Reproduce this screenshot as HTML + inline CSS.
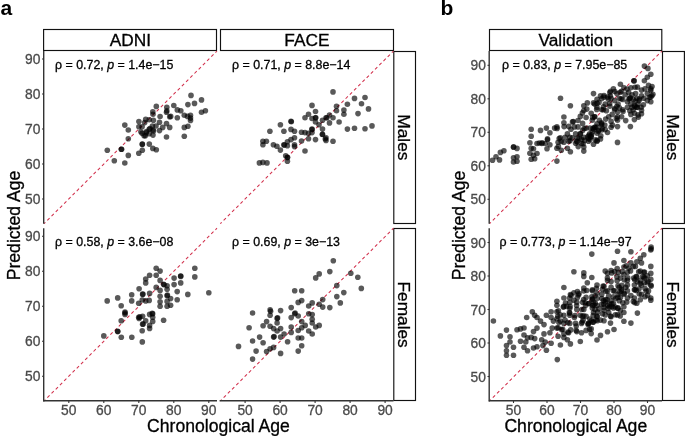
<!DOCTYPE html>
<html><head><meta charset="utf-8"><style>
html,body{margin:0;padding:0;background:#fff;width:685px;height:436px;overflow:hidden}
svg{display:block;filter:blur(0.3px)}
text{font-family:"Liberation Sans", sans-serif}
</style></head><body>
<svg width="685" height="436" viewBox="0 0 685 436">
<rect x="43.60" y="29.50" width="172.90" height="21.00" fill="#fff" stroke="#111" stroke-width="1.15"/>
<rect x="220.50" y="29.50" width="173.00" height="21.00" fill="#fff" stroke="#111" stroke-width="1.15"/>
<rect x="393.80" y="51.50" width="21.70" height="172.00" fill="#fff" stroke="#111" stroke-width="1.15"/>
<rect x="393.80" y="228.50" width="21.70" height="172.00" fill="#fff" stroke="#111" stroke-width="1.15"/>
<rect x="489.50" y="29.50" width="172.30" height="21.00" fill="#fff" stroke="#111" stroke-width="1.15"/>
<rect x="662.50" y="51.50" width="21.90" height="172.00" fill="#fff" stroke="#111" stroke-width="1.15"/>
<rect x="662.50" y="228.50" width="21.90" height="172.00" fill="#fff" stroke="#111" stroke-width="1.15"/>
<line x1="44.00" y1="223.70" x2="217.00" y2="51.00" stroke="#d2304c" stroke-width="1.05" stroke-dasharray="3.2 2.74" stroke-dashoffset="1.24"/>
<line x1="220.30" y1="223.70" x2="393.50" y2="51.00" stroke="#d2304c" stroke-width="1.05" stroke-dasharray="3.2 2.74" stroke-dashoffset="1.24"/>
<line x1="44.00" y1="401.00" x2="217.00" y2="228.20" stroke="#d2304c" stroke-width="1.05" stroke-dasharray="3.2 2.74" stroke-dashoffset="1.24"/>
<line x1="220.30" y1="401.00" x2="393.50" y2="228.20" stroke="#d2304c" stroke-width="1.05" stroke-dasharray="3.2 2.74" stroke-dashoffset="1.24"/>
<line x1="489.50" y1="223.70" x2="662.00" y2="51.00" stroke="#d2304c" stroke-width="1.05" stroke-dasharray="3.2 2.74" stroke-dashoffset="1.24"/>
<line x1="489.50" y1="401.00" x2="662.00" y2="228.20" stroke="#d2304c" stroke-width="1.05" stroke-dasharray="3.2 2.74" stroke-dashoffset="1.24"/>
<g fill="#000" fill-opacity="0.65">
<circle cx="191.0" cy="95.4" r="2.8"/>
<circle cx="201.5" cy="99.9" r="2.8"/>
<circle cx="194.5" cy="103.4" r="2.8"/>
<circle cx="187.9" cy="104.6" r="2.8"/>
<circle cx="201.5" cy="112.2" r="2.8"/>
<circle cx="205.4" cy="110.8" r="2.8"/>
<circle cx="173.8" cy="105.5" r="2.8"/>
<circle cx="177.3" cy="109.9" r="2.8"/>
<circle cx="180.8" cy="110.8" r="2.8"/>
<circle cx="166.8" cy="107.3" r="2.8"/>
<circle cx="166.8" cy="110.8" r="2.8"/>
<circle cx="156.3" cy="106.4" r="2.8"/>
<circle cx="152.8" cy="111.7" r="2.8"/>
<circle cx="177.3" cy="117.8" r="2.8"/>
<circle cx="184.3" cy="115.2" r="2.8"/>
<circle cx="190.5" cy="115.2" r="2.8"/>
<circle cx="190.5" cy="120.4" r="2.8"/>
<circle cx="184.3" cy="127.4" r="2.8"/>
<circle cx="187.9" cy="126.2" r="2.8"/>
<circle cx="184.3" cy="136.2" r="2.8"/>
<circle cx="142.3" cy="144.1" r="2.8"/>
<circle cx="149.3" cy="144.1" r="2.8"/>
<circle cx="152.8" cy="148.4" r="2.8"/>
<circle cx="156.3" cy="149.7" r="2.8"/>
<circle cx="142.3" cy="150.2" r="2.8"/>
<circle cx="138.8" cy="153.2" r="2.8"/>
<circle cx="124.8" cy="125.1" r="2.8"/>
<circle cx="128.3" cy="130.0" r="2.8"/>
<circle cx="128.3" cy="138.8" r="2.8"/>
<circle cx="107.3" cy="150.2" r="2.8"/>
<circle cx="121.3" cy="149.3" r="2.8"/>
<circle cx="128.3" cy="155.4" r="2.8"/>
<circle cx="114.3" cy="160.7" r="2.8"/>
<circle cx="124.8" cy="163.0" r="2.8"/>
<circle cx="138.9" cy="121.6" r="2.8"/>
<circle cx="145.7" cy="119.4" r="2.8"/>
<circle cx="149.2" cy="119.7" r="2.8"/>
<circle cx="153.0" cy="114.2" r="2.8"/>
<circle cx="153.4" cy="120.3" r="2.8"/>
<circle cx="160.1" cy="116.5" r="2.8"/>
<circle cx="159.5" cy="122.3" r="2.8"/>
<circle cx="166.5" cy="112.3" r="2.8"/>
<circle cx="169.7" cy="116.8" r="2.8"/>
<circle cx="166.5" cy="123.6" r="2.8"/>
<circle cx="169.7" cy="127.4" r="2.8"/>
<circle cx="162.7" cy="127.4" r="2.8"/>
<circle cx="159.5" cy="130.6" r="2.8"/>
<circle cx="138.9" cy="126.8" r="2.8"/>
<circle cx="142.1" cy="126.8" r="2.8"/>
<circle cx="144.7" cy="122.6" r="2.8"/>
<circle cx="152.4" cy="126.1" r="2.8"/>
<circle cx="149.2" cy="129.3" r="2.8"/>
<circle cx="153.0" cy="130.0" r="2.8"/>
<circle cx="142.1" cy="133.2" r="2.8"/>
<circle cx="145.3" cy="135.8" r="2.8"/>
<circle cx="149.2" cy="133.8" r="2.8"/>
<circle cx="153.0" cy="135.1" r="2.8"/>
<circle cx="166.5" cy="137.0" r="2.8"/>
<circle cx="150.0" cy="128.5" r="2.8"/>
<circle cx="153.5" cy="131.0" r="2.8"/>
<circle cx="146.5" cy="131.5" r="2.8"/>
<circle cx="156.0" cy="126.0" r="2.8"/>
<circle cx="170.7" cy="116.4" r="2.8"/>
<circle cx="190.5" cy="118.1" r="2.8"/>
<circle cx="144.1" cy="135.7" r="2.8"/>
<circle cx="146.2" cy="132.7" r="2.8"/>
<circle cx="121.6" cy="149.3" r="2.8"/>
<circle cx="142.3" cy="144.4" r="2.8"/>
<circle cx="187.5" cy="116.4" r="2.8"/>
<circle cx="140.9" cy="131.8" r="2.8"/>
<circle cx="333.0" cy="91.9" r="2.8"/>
<circle cx="336.5" cy="106.3" r="2.8"/>
<circle cx="336.5" cy="110.7" r="2.8"/>
<circle cx="339.1" cy="122.0" r="2.8"/>
<circle cx="312.0" cy="105.4" r="2.8"/>
<circle cx="315.5" cy="111.5" r="2.8"/>
<circle cx="308.5" cy="114.2" r="2.8"/>
<circle cx="305.0" cy="117.7" r="2.8"/>
<circle cx="315.5" cy="117.7" r="2.8"/>
<circle cx="312.0" cy="118.5" r="2.8"/>
<circle cx="315.5" cy="122.0" r="2.8"/>
<circle cx="319.0" cy="124.7" r="2.8"/>
<circle cx="322.5" cy="120.3" r="2.8"/>
<circle cx="326.0" cy="117.7" r="2.8"/>
<circle cx="329.5" cy="115.0" r="2.8"/>
<circle cx="333.0" cy="117.7" r="2.8"/>
<circle cx="329.5" cy="122.9" r="2.8"/>
<circle cx="291.0" cy="121.2" r="2.8"/>
<circle cx="280.4" cy="124.7" r="2.8"/>
<circle cx="269.9" cy="131.2" r="2.8"/>
<circle cx="283.9" cy="131.2" r="2.8"/>
<circle cx="291.0" cy="129.4" r="2.8"/>
<circle cx="294.5" cy="131.2" r="2.8"/>
<circle cx="301.5" cy="132.2" r="2.8"/>
<circle cx="305.0" cy="132.6" r="2.8"/>
<circle cx="308.5" cy="133.4" r="2.8"/>
<circle cx="312.0" cy="129.1" r="2.8"/>
<circle cx="312.0" cy="132.6" r="2.8"/>
<circle cx="322.5" cy="129.1" r="2.8"/>
<circle cx="322.5" cy="134.3" r="2.8"/>
<circle cx="326.0" cy="137.8" r="2.8"/>
<circle cx="326.0" cy="140.4" r="2.8"/>
<circle cx="333.0" cy="141.3" r="2.8"/>
<circle cx="315.5" cy="139.6" r="2.8"/>
<circle cx="301.5" cy="141.0" r="2.8"/>
<circle cx="308.5" cy="138.7" r="2.8"/>
<circle cx="294.5" cy="137.8" r="2.8"/>
<circle cx="291.0" cy="139.6" r="2.8"/>
<circle cx="287.4" cy="141.7" r="2.8"/>
<circle cx="283.9" cy="144.8" r="2.8"/>
<circle cx="287.4" cy="145.7" r="2.8"/>
<circle cx="294.5" cy="144.8" r="2.8"/>
<circle cx="294.5" cy="146.6" r="2.8"/>
<circle cx="280.4" cy="150.1" r="2.8"/>
<circle cx="276.9" cy="146.2" r="2.8"/>
<circle cx="273.4" cy="144.8" r="2.8"/>
<circle cx="262.9" cy="141.3" r="2.8"/>
<circle cx="266.4" cy="141.3" r="2.8"/>
<circle cx="262.9" cy="144.8" r="2.8"/>
<circle cx="305.0" cy="151.0" r="2.8"/>
<circle cx="285.7" cy="155.7" r="2.8"/>
<circle cx="354.5" cy="98.4" r="2.8"/>
<circle cx="365.0" cy="97.5" r="2.8"/>
<circle cx="361.5" cy="103.7" r="2.8"/>
<circle cx="347.4" cy="104.2" r="2.8"/>
<circle cx="368.5" cy="108.9" r="2.8"/>
<circle cx="343.9" cy="110.1" r="2.8"/>
<circle cx="343.9" cy="114.2" r="2.8"/>
<circle cx="358.0" cy="113.6" r="2.8"/>
<circle cx="347.4" cy="129.1" r="2.8"/>
<circle cx="354.5" cy="128.2" r="2.8"/>
<circle cx="365.0" cy="128.7" r="2.8"/>
<circle cx="372.0" cy="125.9" r="2.8"/>
<circle cx="259.4" cy="162.9" r="2.8"/>
<circle cx="262.9" cy="162.4" r="2.8"/>
<circle cx="267.0" cy="162.9" r="2.8"/>
<circle cx="287.4" cy="157.2" r="2.8"/>
<circle cx="287.4" cy="161.2" r="2.8"/>
<circle cx="291.3" cy="121.7" r="2.8"/>
<circle cx="312.0" cy="129.5" r="2.8"/>
<circle cx="315.7" cy="117.8" r="2.8"/>
<circle cx="326.9" cy="117.8" r="2.8"/>
<circle cx="325.3" cy="139.0" r="2.8"/>
<circle cx="284.3" cy="145.1" r="2.8"/>
<circle cx="287.5" cy="157.6" r="2.8"/>
<circle cx="322.4" cy="134.5" r="2.8"/>
<circle cx="156.2" cy="268.2" r="2.8"/>
<circle cx="160.1" cy="271.1" r="2.8"/>
<circle cx="149.6" cy="275.2" r="2.8"/>
<circle cx="156.2" cy="275.2" r="2.8"/>
<circle cx="145.7" cy="279.0" r="2.8"/>
<circle cx="145.7" cy="282.9" r="2.8"/>
<circle cx="160.1" cy="280.4" r="2.8"/>
<circle cx="163.6" cy="284.3" r="2.8"/>
<circle cx="167.1" cy="285.7" r="2.8"/>
<circle cx="156.2" cy="287.4" r="2.8"/>
<circle cx="160.1" cy="290.4" r="2.8"/>
<circle cx="167.1" cy="289.2" r="2.8"/>
<circle cx="174.1" cy="278.1" r="2.8"/>
<circle cx="180.7" cy="276.4" r="2.8"/>
<circle cx="180.7" cy="282.9" r="2.8"/>
<circle cx="174.1" cy="284.6" r="2.8"/>
<circle cx="194.8" cy="268.2" r="2.8"/>
<circle cx="194.8" cy="276.9" r="2.8"/>
<circle cx="208.8" cy="292.7" r="2.8"/>
<circle cx="187.8" cy="294.4" r="2.8"/>
<circle cx="177.2" cy="291.6" r="2.8"/>
<circle cx="177.2" cy="299.7" r="2.8"/>
<circle cx="170.6" cy="298.6" r="2.8"/>
<circle cx="167.1" cy="295.7" r="2.8"/>
<circle cx="167.1" cy="301.4" r="2.8"/>
<circle cx="167.1" cy="306.2" r="2.8"/>
<circle cx="170.6" cy="305.3" r="2.8"/>
<circle cx="160.1" cy="296.2" r="2.8"/>
<circle cx="160.1" cy="301.8" r="2.8"/>
<circle cx="160.1" cy="306.2" r="2.8"/>
<circle cx="149.6" cy="293.4" r="2.8"/>
<circle cx="142.6" cy="294.4" r="2.8"/>
<circle cx="149.2" cy="300.4" r="2.8"/>
<circle cx="145.7" cy="300.9" r="2.8"/>
<circle cx="142.2" cy="300.0" r="2.8"/>
<circle cx="138.7" cy="303.2" r="2.8"/>
<circle cx="139.1" cy="288.7" r="2.8"/>
<circle cx="131.7" cy="294.8" r="2.8"/>
<circle cx="131.7" cy="300.9" r="2.8"/>
<circle cx="117.7" cy="297.9" r="2.8"/>
<circle cx="107.2" cy="300.9" r="2.8"/>
<circle cx="121.2" cy="305.7" r="2.8"/>
<circle cx="125.0" cy="312.0" r="2.8"/>
<circle cx="125.0" cy="314.4" r="2.8"/>
<circle cx="121.2" cy="320.7" r="2.8"/>
<circle cx="138.7" cy="317.2" r="2.8"/>
<circle cx="142.6" cy="316.2" r="2.8"/>
<circle cx="139.1" cy="318.4" r="2.8"/>
<circle cx="149.6" cy="314.4" r="2.8"/>
<circle cx="152.7" cy="313.7" r="2.8"/>
<circle cx="152.7" cy="317.2" r="2.8"/>
<circle cx="152.7" cy="321.4" r="2.8"/>
<circle cx="145.7" cy="320.7" r="2.8"/>
<circle cx="142.6" cy="324.2" r="2.8"/>
<circle cx="149.6" cy="325.4" r="2.8"/>
<circle cx="149.6" cy="328.4" r="2.8"/>
<circle cx="142.2" cy="330.7" r="2.8"/>
<circle cx="163.6" cy="320.2" r="2.8"/>
<circle cx="117.7" cy="331.6" r="2.8"/>
<circle cx="103.8" cy="335.9" r="2.8"/>
<circle cx="121.3" cy="337.2" r="2.8"/>
<circle cx="131.8" cy="337.2" r="2.8"/>
<circle cx="142.3" cy="341.9" r="2.8"/>
<circle cx="180.7" cy="276.0" r="2.8"/>
<circle cx="142.9" cy="294.1" r="2.8"/>
<circle cx="164.1" cy="284.8" r="2.8"/>
<circle cx="167.4" cy="295.1" r="2.8"/>
<circle cx="139.8" cy="316.9" r="2.8"/>
<circle cx="143.1" cy="323.9" r="2.8"/>
<circle cx="152.2" cy="313.4" r="2.8"/>
<circle cx="117.7" cy="331.2" r="2.8"/>
<circle cx="125.0" cy="313.0" r="2.8"/>
<circle cx="333.3" cy="260.8" r="2.8"/>
<circle cx="329.8" cy="271.6" r="2.8"/>
<circle cx="319.2" cy="273.9" r="2.8"/>
<circle cx="315.7" cy="277.9" r="2.8"/>
<circle cx="350.8" cy="273.2" r="2.8"/>
<circle cx="357.8" cy="277.2" r="2.8"/>
<circle cx="361.3" cy="288.4" r="2.8"/>
<circle cx="336.8" cy="285.6" r="2.8"/>
<circle cx="343.8" cy="292.6" r="2.8"/>
<circle cx="336.8" cy="296.6" r="2.8"/>
<circle cx="340.3" cy="302.9" r="2.8"/>
<circle cx="329.8" cy="307.6" r="2.8"/>
<circle cx="322.7" cy="299.6" r="2.8"/>
<circle cx="319.2" cy="304.3" r="2.8"/>
<circle cx="322.7" cy="307.1" r="2.8"/>
<circle cx="312.2" cy="302.9" r="2.8"/>
<circle cx="308.7" cy="306.0" r="2.8"/>
<circle cx="301.7" cy="290.7" r="2.8"/>
<circle cx="294.7" cy="290.7" r="2.8"/>
<circle cx="298.2" cy="302.4" r="2.8"/>
<circle cx="301.7" cy="300.6" r="2.8"/>
<circle cx="291.2" cy="307.6" r="2.8"/>
<circle cx="294.7" cy="313.7" r="2.8"/>
<circle cx="298.2" cy="316.0" r="2.8"/>
<circle cx="308.7" cy="313.7" r="2.8"/>
<circle cx="312.2" cy="314.6" r="2.8"/>
<circle cx="312.2" cy="319.3" r="2.8"/>
<circle cx="312.2" cy="323.0" r="2.8"/>
<circle cx="319.2" cy="325.4" r="2.8"/>
<circle cx="315.7" cy="327.0" r="2.8"/>
<circle cx="291.2" cy="317.6" r="2.8"/>
<circle cx="301.7" cy="321.6" r="2.8"/>
<circle cx="305.2" cy="325.4" r="2.8"/>
<circle cx="301.7" cy="327.7" r="2.8"/>
<circle cx="308.7" cy="331.0" r="2.8"/>
<circle cx="312.2" cy="334.0" r="2.8"/>
<circle cx="298.2" cy="330.5" r="2.8"/>
<circle cx="291.2" cy="327.0" r="2.8"/>
<circle cx="291.2" cy="332.4" r="2.8"/>
<circle cx="298.2" cy="338.0" r="2.8"/>
<circle cx="301.7" cy="338.0" r="2.8"/>
<circle cx="301.7" cy="345.7" r="2.8"/>
<circle cx="298.2" cy="351.1" r="2.8"/>
<circle cx="287.6" cy="341.7" r="2.8"/>
<circle cx="284.1" cy="334.0" r="2.8"/>
<circle cx="280.6" cy="328.6" r="2.8"/>
<circle cx="280.6" cy="310.6" r="2.8"/>
<circle cx="270.1" cy="309.9" r="2.8"/>
<circle cx="270.1" cy="315.3" r="2.8"/>
<circle cx="277.1" cy="318.4" r="2.8"/>
<circle cx="277.1" cy="323.0" r="2.8"/>
<circle cx="266.6" cy="321.6" r="2.8"/>
<circle cx="263.1" cy="325.8" r="2.8"/>
<circle cx="270.1" cy="326.3" r="2.8"/>
<circle cx="273.6" cy="328.6" r="2.8"/>
<circle cx="277.1" cy="331.0" r="2.8"/>
<circle cx="273.6" cy="337.1" r="2.8"/>
<circle cx="280.6" cy="337.1" r="2.8"/>
<circle cx="273.6" cy="347.4" r="2.8"/>
<circle cx="270.1" cy="348.8" r="2.8"/>
<circle cx="266.6" cy="351.6" r="2.8"/>
<circle cx="280.6" cy="353.4" r="2.8"/>
<circle cx="263.1" cy="342.7" r="2.8"/>
<circle cx="259.6" cy="337.1" r="2.8"/>
<circle cx="252.6" cy="341.0" r="2.8"/>
<circle cx="256.1" cy="351.1" r="2.8"/>
<circle cx="249.1" cy="327.7" r="2.8"/>
<circle cx="252.6" cy="313.0" r="2.8"/>
<circle cx="238.5" cy="346.4" r="2.8"/>
<circle cx="252.6" cy="359.1" r="2.8"/>
<circle cx="274.1" cy="336.6" r="2.8"/>
<circle cx="295.1" cy="313.0" r="2.8"/>
<circle cx="277.6" cy="317.9" r="2.8"/>
<circle cx="270.6" cy="311.3" r="2.8"/>
<circle cx="492.5" cy="160.3" r="2.8"/>
<circle cx="496.0" cy="156.8" r="2.8"/>
<circle cx="499.5" cy="159.9" r="2.8"/>
<circle cx="500.4" cy="152.4" r="2.8"/>
<circle cx="503.9" cy="150.7" r="2.8"/>
<circle cx="513.5" cy="147.2" r="2.8"/>
<circle cx="517.0" cy="148.4" r="2.8"/>
<circle cx="513.5" cy="157.7" r="2.8"/>
<circle cx="517.0" cy="156.8" r="2.8"/>
<circle cx="513.5" cy="162.0" r="2.8"/>
<circle cx="517.0" cy="161.2" r="2.8"/>
<circle cx="560.5" cy="98.3" r="2.8"/>
<circle cx="644.4" cy="66.1" r="2.8"/>
<circle cx="647.9" cy="68.4" r="2.8"/>
<circle cx="650.8" cy="74.3" r="2.8"/>
<circle cx="647.3" cy="77.2" r="2.8"/>
<circle cx="644.4" cy="80.7" r="2.8"/>
<circle cx="633.9" cy="80.7" r="2.8"/>
<circle cx="637.4" cy="87.1" r="2.8"/>
<circle cx="630.9" cy="87.7" r="2.8"/>
<circle cx="620.4" cy="84.2" r="2.8"/>
<circle cx="623.9" cy="87.7" r="2.8"/>
<circle cx="613.4" cy="88.9" r="2.8"/>
<circle cx="610.5" cy="91.2" r="2.8"/>
<circle cx="616.9" cy="93.6" r="2.8"/>
<circle cx="621.6" cy="91.2" r="2.8"/>
<circle cx="625.1" cy="94.7" r="2.8"/>
<circle cx="628.6" cy="92.4" r="2.8"/>
<circle cx="632.1" cy="94.7" r="2.8"/>
<circle cx="635.6" cy="93.6" r="2.8"/>
<circle cx="641.5" cy="90.1" r="2.8"/>
<circle cx="645.0" cy="88.9" r="2.8"/>
<circle cx="648.5" cy="85.4" r="2.8"/>
<circle cx="650.8" cy="88.9" r="2.8"/>
<circle cx="652.0" cy="86.6" r="2.8"/>
<circle cx="647.3" cy="93.6" r="2.8"/>
<circle cx="650.8" cy="97.1" r="2.8"/>
<circle cx="650.8" cy="101.8" r="2.8"/>
<circle cx="647.3" cy="100.6" r="2.8"/>
<circle cx="643.8" cy="98.3" r="2.8"/>
<circle cx="641.5" cy="95.9" r="2.8"/>
<circle cx="639.1" cy="100.6" r="2.8"/>
<circle cx="636.8" cy="98.3" r="2.8"/>
<circle cx="633.3" cy="99.4" r="2.8"/>
<circle cx="629.8" cy="98.3" r="2.8"/>
<circle cx="627.4" cy="101.8" r="2.8"/>
<circle cx="630.9" cy="104.1" r="2.8"/>
<circle cx="638.0" cy="104.1" r="2.8"/>
<circle cx="618.1" cy="104.1" r="2.8"/>
<circle cx="614.6" cy="100.6" r="2.8"/>
<circle cx="611.1" cy="98.3" r="2.8"/>
<circle cx="607.5" cy="97.1" r="2.8"/>
<circle cx="604.0" cy="97.1" r="2.8"/>
<circle cx="600.5" cy="95.9" r="2.8"/>
<circle cx="597.0" cy="99.4" r="2.8"/>
<circle cx="593.5" cy="93.6" r="2.8"/>
<circle cx="594.7" cy="104.1" r="2.8"/>
<circle cx="605.2" cy="104.1" r="2.8"/>
<circle cx="622.7" cy="99.4" r="2.8"/>
<circle cx="619.2" cy="98.3" r="2.8"/>
<circle cx="570.4" cy="105.8" r="2.8"/>
<circle cx="583.8" cy="105.8" r="2.8"/>
<circle cx="587.3" cy="102.9" r="2.8"/>
<circle cx="583.8" cy="110.5" r="2.8"/>
<circle cx="580.3" cy="116.4" r="2.8"/>
<circle cx="563.9" cy="117.0" r="2.8"/>
<circle cx="563.9" cy="122.8" r="2.8"/>
<circle cx="573.3" cy="121.6" r="2.8"/>
<circle cx="578.0" cy="120.5" r="2.8"/>
<circle cx="582.6" cy="123.4" r="2.8"/>
<circle cx="586.1" cy="117.5" r="2.8"/>
<circle cx="586.1" cy="128.1" r="2.8"/>
<circle cx="582.6" cy="130.4" r="2.8"/>
<circle cx="578.0" cy="126.9" r="2.8"/>
<circle cx="574.4" cy="126.9" r="2.8"/>
<circle cx="570.9" cy="129.2" r="2.8"/>
<circle cx="567.4" cy="133.9" r="2.8"/>
<circle cx="565.1" cy="137.4" r="2.8"/>
<circle cx="559.2" cy="138.6" r="2.8"/>
<circle cx="554.6" cy="128.1" r="2.8"/>
<circle cx="556.9" cy="126.9" r="2.8"/>
<circle cx="549.9" cy="132.7" r="2.8"/>
<circle cx="546.4" cy="128.1" r="2.8"/>
<circle cx="540.5" cy="130.4" r="2.8"/>
<circle cx="531.2" cy="129.2" r="2.8"/>
<circle cx="531.2" cy="136.3" r="2.8"/>
<circle cx="547.5" cy="139.8" r="2.8"/>
<circle cx="579.1" cy="138.6" r="2.8"/>
<circle cx="583.8" cy="137.4" r="2.8"/>
<circle cx="588.5" cy="138.6" r="2.8"/>
<circle cx="589.6" cy="133.9" r="2.8"/>
<circle cx="569.8" cy="137.4" r="2.8"/>
<circle cx="575.6" cy="133.9" r="2.8"/>
<circle cx="580.3" cy="133.9" r="2.8"/>
<circle cx="641.5" cy="110.3" r="2.8"/>
<circle cx="641.5" cy="113.8" r="2.8"/>
<circle cx="638.0" cy="114.9" r="2.8"/>
<circle cx="634.4" cy="113.2" r="2.8"/>
<circle cx="630.9" cy="114.4" r="2.8"/>
<circle cx="629.8" cy="110.8" r="2.8"/>
<circle cx="627.4" cy="107.3" r="2.8"/>
<circle cx="632.1" cy="107.3" r="2.8"/>
<circle cx="636.8" cy="107.3" r="2.8"/>
<circle cx="634.4" cy="119.6" r="2.8"/>
<circle cx="630.4" cy="126.6" r="2.8"/>
<circle cx="617.5" cy="126.6" r="2.8"/>
<circle cx="621.6" cy="116.7" r="2.8"/>
<circle cx="617.5" cy="116.7" r="2.8"/>
<circle cx="617.5" cy="120.2" r="2.8"/>
<circle cx="617.5" cy="112.0" r="2.8"/>
<circle cx="614.6" cy="109.7" r="2.8"/>
<circle cx="612.2" cy="114.4" r="2.8"/>
<circle cx="608.7" cy="116.7" r="2.8"/>
<circle cx="611.1" cy="121.4" r="2.8"/>
<circle cx="611.1" cy="127.2" r="2.8"/>
<circle cx="607.5" cy="132.5" r="2.8"/>
<circle cx="605.2" cy="129.6" r="2.8"/>
<circle cx="601.7" cy="123.7" r="2.8"/>
<circle cx="599.4" cy="120.2" r="2.8"/>
<circle cx="597.0" cy="123.7" r="2.8"/>
<circle cx="594.7" cy="127.2" r="2.8"/>
<circle cx="592.3" cy="131.9" r="2.8"/>
<circle cx="591.2" cy="136.6" r="2.8"/>
<circle cx="597.0" cy="133.1" r="2.8"/>
<circle cx="600.5" cy="138.9" r="2.8"/>
<circle cx="597.0" cy="141.3" r="2.8"/>
<circle cx="593.5" cy="144.2" r="2.8"/>
<circle cx="617.5" cy="142.4" r="2.8"/>
<circle cx="594.7" cy="116.7" r="2.8"/>
<circle cx="591.2" cy="113.2" r="2.8"/>
<circle cx="592.3" cy="120.2" r="2.8"/>
<circle cx="606.4" cy="110.8" r="2.8"/>
<circle cx="601.7" cy="109.7" r="2.8"/>
<circle cx="597.0" cy="107.3" r="2.8"/>
<circle cx="609.9" cy="106.2" r="2.8"/>
<circle cx="616.9" cy="106.2" r="2.8"/>
<circle cx="622.7" cy="109.7" r="2.8"/>
<circle cx="547.0" cy="148.8" r="2.8"/>
<circle cx="556.9" cy="148.2" r="2.8"/>
<circle cx="556.9" cy="161.1" r="2.8"/>
<circle cx="570.4" cy="151.7" r="2.8"/>
<circle cx="567.4" cy="148.2" r="2.8"/>
<circle cx="583.8" cy="151.1" r="2.8"/>
<circle cx="583.8" cy="147.0" r="2.8"/>
<circle cx="531.2" cy="148.2" r="2.8"/>
<circle cx="533.5" cy="148.8" r="2.8"/>
<circle cx="537.0" cy="153.5" r="2.8"/>
<circle cx="533.5" cy="155.2" r="2.8"/>
<circle cx="531.2" cy="159.3" r="2.8"/>
<circle cx="534.7" cy="158.7" r="2.8"/>
<circle cx="537.0" cy="143.5" r="2.8"/>
<circle cx="541.7" cy="143.5" r="2.8"/>
<circle cx="545.2" cy="143.5" r="2.8"/>
<circle cx="549.9" cy="144.7" r="2.8"/>
<circle cx="558.1" cy="142.3" r="2.8"/>
<circle cx="563.9" cy="142.3" r="2.8"/>
<circle cx="568.6" cy="141.2" r="2.8"/>
<circle cx="576.8" cy="141.2" r="2.8"/>
<circle cx="581.5" cy="143.5" r="2.8"/>
<circle cx="588.5" cy="141.2" r="2.8"/>
<circle cx="627.0" cy="89.1" r="2.8"/>
<circle cx="635.0" cy="87.2" r="2.8"/>
<circle cx="650.7" cy="90.3" r="2.8"/>
<circle cx="609.8" cy="92.6" r="2.8"/>
<circle cx="614.8" cy="91.5" r="2.8"/>
<circle cx="620.2" cy="92.3" r="2.8"/>
<circle cx="652.9" cy="94.2" r="2.8"/>
<circle cx="604.0" cy="95.5" r="2.8"/>
<circle cx="610.3" cy="95.9" r="2.8"/>
<circle cx="630.3" cy="97.8" r="2.8"/>
<circle cx="649.4" cy="97.3" r="2.8"/>
<circle cx="651.9" cy="95.7" r="2.8"/>
<circle cx="601.8" cy="98.6" r="2.8"/>
<circle cx="608.2" cy="98.9" r="2.8"/>
<circle cx="621.2" cy="98.8" r="2.8"/>
<circle cx="628.9" cy="99.1" r="2.8"/>
<circle cx="635.2" cy="101.2" r="2.8"/>
<circle cx="639.3" cy="99.0" r="2.8"/>
<circle cx="593.5" cy="102.9" r="2.8"/>
<circle cx="597.1" cy="103.3" r="2.8"/>
<circle cx="599.0" cy="102.4" r="2.8"/>
<circle cx="609.7" cy="103.4" r="2.8"/>
<circle cx="634.5" cy="105.4" r="2.8"/>
<circle cx="643.4" cy="104.8" r="2.8"/>
<circle cx="586.8" cy="109.1" r="2.8"/>
<circle cx="596.7" cy="109.4" r="2.8"/>
<circle cx="603.5" cy="106.8" r="2.8"/>
<circle cx="614.8" cy="108.5" r="2.8"/>
<circle cx="619.4" cy="107.9" r="2.8"/>
<circle cx="635.0" cy="106.6" r="2.8"/>
<circle cx="637.1" cy="107.5" r="2.8"/>
<circle cx="641.2" cy="107.2" r="2.8"/>
<circle cx="582.4" cy="112.9" r="2.8"/>
<circle cx="603.3" cy="109.8" r="2.8"/>
<circle cx="623.0" cy="111.5" r="2.8"/>
<circle cx="633.1" cy="110.0" r="2.8"/>
<circle cx="594.6" cy="116.8" r="2.8"/>
<circle cx="638.4" cy="117.1" r="2.8"/>
<circle cx="592.6" cy="117.4" r="2.8"/>
<circle cx="605.7" cy="119.1" r="2.8"/>
<circle cx="616.4" cy="118.4" r="2.8"/>
<circle cx="625.7" cy="120.6" r="2.8"/>
<circle cx="572.5" cy="121.9" r="2.8"/>
<circle cx="601.4" cy="122.9" r="2.8"/>
<circle cx="564.1" cy="126.6" r="2.8"/>
<circle cx="568.7" cy="126.4" r="2.8"/>
<circle cx="584.2" cy="128.5" r="2.8"/>
<circle cx="590.0" cy="128.1" r="2.8"/>
<circle cx="596.9" cy="127.0" r="2.8"/>
<circle cx="601.6" cy="125.0" r="2.8"/>
<circle cx="604.8" cy="125.0" r="2.8"/>
<circle cx="612.4" cy="125.1" r="2.8"/>
<circle cx="593.8" cy="129.4" r="2.8"/>
<circle cx="598.2" cy="131.3" r="2.8"/>
<circle cx="601.9" cy="130.0" r="2.8"/>
<circle cx="588.9" cy="135.2" r="2.8"/>
<circle cx="591.6" cy="134.8" r="2.8"/>
<circle cx="600.8" cy="135.7" r="2.8"/>
<circle cx="581.5" cy="139.3" r="2.8"/>
<circle cx="595.4" cy="139.9" r="2.8"/>
<circle cx="575.6" cy="143.3" r="2.8"/>
<circle cx="577.0" cy="141.8" r="2.8"/>
<circle cx="597.2" cy="140.4" r="2.8"/>
<circle cx="593.0" cy="128.4" r="2.8"/>
<circle cx="595.0" cy="127.4" r="2.8"/>
<circle cx="602.3" cy="128.5" r="2.8"/>
<circle cx="598.8" cy="130.4" r="2.8"/>
<circle cx="580.3" cy="133.9" r="2.8"/>
<circle cx="587.7" cy="136.7" r="2.8"/>
<circle cx="590.8" cy="136.9" r="2.8"/>
<circle cx="570.0" cy="140.8" r="2.8"/>
<circle cx="572.3" cy="137.9" r="2.8"/>
<circle cx="577.4" cy="138.0" r="2.8"/>
<circle cx="584.6" cy="140.4" r="2.8"/>
<circle cx="589.9" cy="139.6" r="2.8"/>
<circle cx="561.2" cy="141.4" r="2.8"/>
<circle cx="583.1" cy="143.7" r="2.8"/>
<circle cx="558.4" cy="146.4" r="2.8"/>
<circle cx="578.2" cy="146.6" r="2.8"/>
<circle cx="561.3" cy="150.3" r="2.8"/>
<circle cx="529.9" cy="142.8" r="2.8"/>
<circle cx="529.9" cy="153.3" r="2.8"/>
<circle cx="539.3" cy="143.0" r="2.8"/>
<circle cx="542.2" cy="142.8" r="2.8"/>
<circle cx="513.6" cy="146.7" r="2.8"/>
<circle cx="557.1" cy="128.4" r="2.8"/>
<circle cx="547.5" cy="138.9" r="2.8"/>
<circle cx="560.3" cy="137.8" r="2.8"/>
<circle cx="634.1" cy="80.9" r="2.8"/>
<circle cx="651.1" cy="247.0" r="2.8"/>
<circle cx="651.1" cy="248.8" r="2.8"/>
<circle cx="493.4" cy="321.0" r="2.8"/>
<circle cx="500.4" cy="335.9" r="2.8"/>
<circle cx="506.5" cy="330.1" r="2.8"/>
<circle cx="510.0" cy="336.8" r="2.8"/>
<circle cx="510.0" cy="342.0" r="2.8"/>
<circle cx="506.5" cy="345.6" r="2.8"/>
<circle cx="513.5" cy="347.3" r="2.8"/>
<circle cx="506.5" cy="350.8" r="2.8"/>
<circle cx="506.5" cy="355.2" r="2.8"/>
<circle cx="513.5" cy="355.2" r="2.8"/>
<circle cx="517.0" cy="329.8" r="2.8"/>
<circle cx="520.5" cy="328.9" r="2.8"/>
<circle cx="524.0" cy="328.0" r="2.8"/>
<circle cx="524.0" cy="335.0" r="2.8"/>
<circle cx="527.5" cy="337.7" r="2.8"/>
<circle cx="520.5" cy="341.2" r="2.8"/>
<circle cx="525.8" cy="342.0" r="2.8"/>
<circle cx="524.0" cy="347.3" r="2.8"/>
<circle cx="527.5" cy="350.8" r="2.8"/>
<circle cx="526.7" cy="317.5" r="2.8"/>
<circle cx="557.3" cy="359.6" r="2.8"/>
<circle cx="573.9" cy="271.7" r="2.8"/>
<circle cx="583.8" cy="272.9" r="2.8"/>
<circle cx="583.8" cy="276.4" r="2.8"/>
<circle cx="587.3" cy="282.8" r="2.8"/>
<circle cx="563.9" cy="287.5" r="2.8"/>
<circle cx="583.8" cy="288.1" r="2.8"/>
<circle cx="583.8" cy="291.0" r="2.8"/>
<circle cx="570.4" cy="294.5" r="2.8"/>
<circle cx="573.9" cy="292.7" r="2.8"/>
<circle cx="577.4" cy="291.6" r="2.8"/>
<circle cx="577.4" cy="297.4" r="2.8"/>
<circle cx="563.9" cy="298.0" r="2.8"/>
<circle cx="586.1" cy="297.4" r="2.8"/>
<circle cx="617.5" cy="251.2" r="2.8"/>
<circle cx="630.9" cy="251.8" r="2.8"/>
<circle cx="650.8" cy="250.0" r="2.8"/>
<circle cx="643.8" cy="254.7" r="2.8"/>
<circle cx="640.3" cy="258.2" r="2.8"/>
<circle cx="641.5" cy="262.9" r="2.8"/>
<circle cx="636.8" cy="261.7" r="2.8"/>
<circle cx="630.9" cy="262.9" r="2.8"/>
<circle cx="633.3" cy="266.4" r="2.8"/>
<circle cx="623.9" cy="260.5" r="2.8"/>
<circle cx="623.9" cy="267.0" r="2.8"/>
<circle cx="614.0" cy="262.9" r="2.8"/>
<circle cx="605.2" cy="271.1" r="2.8"/>
<circle cx="607.5" cy="273.4" r="2.8"/>
<circle cx="611.1" cy="270.5" r="2.8"/>
<circle cx="614.6" cy="271.6" r="2.8"/>
<circle cx="591.8" cy="254.1" r="2.8"/>
<circle cx="591.8" cy="277.5" r="2.8"/>
<circle cx="627.4" cy="272.2" r="2.8"/>
<circle cx="623.9" cy="274.6" r="2.8"/>
<circle cx="620.4" cy="278.1" r="2.8"/>
<circle cx="616.9" cy="276.9" r="2.8"/>
<circle cx="611.1" cy="281.6" r="2.8"/>
<circle cx="607.5" cy="280.4" r="2.8"/>
<circle cx="604.0" cy="286.3" r="2.8"/>
<circle cx="597.0" cy="285.1" r="2.8"/>
<circle cx="592.3" cy="289.8" r="2.8"/>
<circle cx="591.8" cy="296.8" r="2.8"/>
<circle cx="597.0" cy="293.3" r="2.8"/>
<circle cx="601.7" cy="294.4" r="2.8"/>
<circle cx="607.5" cy="290.9" r="2.8"/>
<circle cx="611.1" cy="287.4" r="2.8"/>
<circle cx="614.6" cy="290.9" r="2.8"/>
<circle cx="619.2" cy="287.4" r="2.8"/>
<circle cx="621.6" cy="290.9" r="2.8"/>
<circle cx="618.1" cy="294.4" r="2.8"/>
<circle cx="613.4" cy="296.8" r="2.8"/>
<circle cx="627.4" cy="280.4" r="2.8"/>
<circle cx="627.4" cy="285.1" r="2.8"/>
<circle cx="627.4" cy="290.9" r="2.8"/>
<circle cx="630.9" cy="295.6" r="2.8"/>
<circle cx="627.4" cy="298.0" r="2.8"/>
<circle cx="634.4" cy="285.1" r="2.8"/>
<circle cx="634.4" cy="289.8" r="2.8"/>
<circle cx="634.4" cy="298.0" r="2.8"/>
<circle cx="636.8" cy="276.9" r="2.8"/>
<circle cx="640.3" cy="271.1" r="2.8"/>
<circle cx="643.8" cy="272.2" r="2.8"/>
<circle cx="645.0" cy="278.1" r="2.8"/>
<circle cx="640.3" cy="280.4" r="2.8"/>
<circle cx="641.5" cy="285.1" r="2.8"/>
<circle cx="645.0" cy="288.6" r="2.8"/>
<circle cx="641.5" cy="294.4" r="2.8"/>
<circle cx="645.0" cy="296.8" r="2.8"/>
<circle cx="648.5" cy="290.9" r="2.8"/>
<circle cx="650.8" cy="285.1" r="2.8"/>
<circle cx="650.8" cy="279.2" r="2.8"/>
<circle cx="650.8" cy="273.4" r="2.8"/>
<circle cx="650.8" cy="266.4" r="2.8"/>
<circle cx="650.8" cy="298.0" r="2.8"/>
<circle cx="647.3" cy="275.7" r="2.8"/>
<circle cx="647.3" cy="282.7" r="2.8"/>
<circle cx="556.9" cy="301.2" r="2.8"/>
<circle cx="556.9" cy="305.3" r="2.8"/>
<circle cx="563.9" cy="306.4" r="2.8"/>
<circle cx="563.9" cy="315.2" r="2.8"/>
<circle cx="569.8" cy="302.3" r="2.8"/>
<circle cx="576.8" cy="302.3" r="2.8"/>
<circle cx="582.6" cy="302.3" r="2.8"/>
<circle cx="588.5" cy="303.5" r="2.8"/>
<circle cx="569.8" cy="308.2" r="2.8"/>
<circle cx="576.8" cy="309.4" r="2.8"/>
<circle cx="583.8" cy="309.4" r="2.8"/>
<circle cx="569.8" cy="315.2" r="2.8"/>
<circle cx="574.4" cy="317.5" r="2.8"/>
<circle cx="580.3" cy="315.2" r="2.8"/>
<circle cx="586.1" cy="316.4" r="2.8"/>
<circle cx="588.5" cy="323.4" r="2.8"/>
<circle cx="581.5" cy="323.4" r="2.8"/>
<circle cx="575.6" cy="323.4" r="2.8"/>
<circle cx="569.8" cy="323.4" r="2.8"/>
<circle cx="563.9" cy="323.4" r="2.8"/>
<circle cx="560.4" cy="321.1" r="2.8"/>
<circle cx="556.9" cy="318.7" r="2.8"/>
<circle cx="551.1" cy="311.7" r="2.8"/>
<circle cx="556.9" cy="311.7" r="2.8"/>
<circle cx="546.4" cy="315.2" r="2.8"/>
<circle cx="551.1" cy="317.5" r="2.8"/>
<circle cx="553.4" cy="321.1" r="2.8"/>
<circle cx="544.0" cy="324.6" r="2.8"/>
<circle cx="537.0" cy="317.5" r="2.8"/>
<circle cx="532.3" cy="311.7" r="2.8"/>
<circle cx="534.7" cy="315.2" r="2.8"/>
<circle cx="540.5" cy="321.1" r="2.8"/>
<circle cx="537.0" cy="328.1" r="2.8"/>
<circle cx="533.5" cy="331.6" r="2.8"/>
<circle cx="544.0" cy="333.9" r="2.8"/>
<circle cx="552.2" cy="328.1" r="2.8"/>
<circle cx="549.9" cy="332.7" r="2.8"/>
<circle cx="556.9" cy="328.1" r="2.8"/>
<circle cx="558.1" cy="336.3" r="2.8"/>
<circle cx="563.9" cy="333.9" r="2.8"/>
<circle cx="562.7" cy="329.2" r="2.8"/>
<circle cx="568.6" cy="332.7" r="2.8"/>
<circle cx="576.8" cy="331.6" r="2.8"/>
<circle cx="581.5" cy="332.7" r="2.8"/>
<circle cx="589.6" cy="329.2" r="2.8"/>
<circle cx="586.1" cy="330.4" r="2.8"/>
<circle cx="580.3" cy="341.5" r="2.8"/>
<circle cx="570.4" cy="343.9" r="2.8"/>
<circle cx="567.4" cy="339.8" r="2.8"/>
<circle cx="563.9" cy="337.4" r="2.8"/>
<circle cx="560.4" cy="345.0" r="2.8"/>
<circle cx="551.1" cy="343.3" r="2.8"/>
<circle cx="545.2" cy="342.1" r="2.8"/>
<circle cx="541.7" cy="339.8" r="2.8"/>
<circle cx="534.7" cy="338.6" r="2.8"/>
<circle cx="531.2" cy="337.4" r="2.8"/>
<circle cx="537.0" cy="346.8" r="2.8"/>
<circle cx="533.5" cy="348.0" r="2.8"/>
<circle cx="542.9" cy="345.6" r="2.8"/>
<circle cx="546.4" cy="350.3" r="2.8"/>
<circle cx="650.8" cy="300.3" r="2.8"/>
<circle cx="640.3" cy="299.7" r="2.8"/>
<circle cx="636.8" cy="303.2" r="2.8"/>
<circle cx="633.3" cy="301.4" r="2.8"/>
<circle cx="637.4" cy="313.1" r="2.8"/>
<circle cx="623.9" cy="306.7" r="2.8"/>
<circle cx="623.9" cy="312.5" r="2.8"/>
<circle cx="617.5" cy="314.9" r="2.8"/>
<circle cx="623.9" cy="321.3" r="2.8"/>
<circle cx="630.9" cy="323.1" r="2.8"/>
<circle cx="614.0" cy="329.5" r="2.8"/>
<circle cx="607.5" cy="331.8" r="2.8"/>
<circle cx="600.5" cy="335.4" r="2.8"/>
<circle cx="597.0" cy="340.0" r="2.8"/>
<circle cx="610.5" cy="323.1" r="2.8"/>
<circle cx="610.5" cy="316.1" r="2.8"/>
<circle cx="604.0" cy="320.7" r="2.8"/>
<circle cx="600.5" cy="320.1" r="2.8"/>
<circle cx="593.5" cy="321.9" r="2.8"/>
<circle cx="591.2" cy="328.9" r="2.8"/>
<circle cx="591.2" cy="333.6" r="2.8"/>
<circle cx="597.0" cy="316.1" r="2.8"/>
<circle cx="593.5" cy="312.5" r="2.8"/>
<circle cx="597.0" cy="305.5" r="2.8"/>
<circle cx="604.0" cy="310.2" r="2.8"/>
<circle cx="608.7" cy="312.5" r="2.8"/>
<circle cx="613.4" cy="307.9" r="2.8"/>
<circle cx="618.1" cy="307.9" r="2.8"/>
<circle cx="619.2" cy="300.8" r="2.8"/>
<circle cx="615.7" cy="298.5" r="2.8"/>
<circle cx="611.1" cy="300.8" r="2.8"/>
<circle cx="605.2" cy="302.0" r="2.8"/>
<circle cx="601.7" cy="298.5" r="2.8"/>
<circle cx="597.0" cy="298.5" r="2.8"/>
<circle cx="593.5" cy="302.0" r="2.8"/>
<circle cx="592.3" cy="307.9" r="2.8"/>
<circle cx="607.5" cy="305.5" r="2.8"/>
<circle cx="613.4" cy="303.2" r="2.8"/>
<circle cx="601.7" cy="304.4" r="2.8"/>
<circle cx="626.2" cy="265.8" r="2.8"/>
<circle cx="635.4" cy="266.4" r="2.8"/>
<circle cx="617.2" cy="268.6" r="2.8"/>
<circle cx="628.8" cy="268.1" r="2.8"/>
<circle cx="630.5" cy="270.9" r="2.8"/>
<circle cx="611.7" cy="272.9" r="2.8"/>
<circle cx="618.4" cy="272.4" r="2.8"/>
<circle cx="622.3" cy="271.6" r="2.8"/>
<circle cx="638.7" cy="271.8" r="2.8"/>
<circle cx="644.5" cy="272.0" r="2.8"/>
<circle cx="607.4" cy="278.1" r="2.8"/>
<circle cx="627.7" cy="277.9" r="2.8"/>
<circle cx="633.7" cy="278.1" r="2.8"/>
<circle cx="636.1" cy="276.5" r="2.8"/>
<circle cx="642.7" cy="276.3" r="2.8"/>
<circle cx="643.9" cy="277.5" r="2.8"/>
<circle cx="617.1" cy="280.7" r="2.8"/>
<circle cx="624.4" cy="280.0" r="2.8"/>
<circle cx="634.7" cy="279.8" r="2.8"/>
<circle cx="637.2" cy="281.7" r="2.8"/>
<circle cx="648.2" cy="281.2" r="2.8"/>
<circle cx="603.1" cy="286.0" r="2.8"/>
<circle cx="618.0" cy="285.7" r="2.8"/>
<circle cx="621.8" cy="285.4" r="2.8"/>
<circle cx="640.1" cy="283.6" r="2.8"/>
<circle cx="644.2" cy="282.8" r="2.8"/>
<circle cx="651.2" cy="286.1" r="2.8"/>
<circle cx="596.4" cy="288.2" r="2.8"/>
<circle cx="602.5" cy="289.4" r="2.8"/>
<circle cx="621.4" cy="289.4" r="2.8"/>
<circle cx="625.7" cy="287.3" r="2.8"/>
<circle cx="635.0" cy="289.8" r="2.8"/>
<circle cx="639.1" cy="288.7" r="2.8"/>
<circle cx="579.0" cy="293.6" r="2.8"/>
<circle cx="586.7" cy="290.5" r="2.8"/>
<circle cx="592.4" cy="290.7" r="2.8"/>
<circle cx="605.9" cy="291.3" r="2.8"/>
<circle cx="613.3" cy="290.8" r="2.8"/>
<circle cx="619.7" cy="292.1" r="2.8"/>
<circle cx="624.1" cy="293.3" r="2.8"/>
<circle cx="636.4" cy="290.4" r="2.8"/>
<circle cx="646.1" cy="291.1" r="2.8"/>
<circle cx="571.1" cy="295.4" r="2.8"/>
<circle cx="578.6" cy="295.0" r="2.8"/>
<circle cx="595.1" cy="295.8" r="2.8"/>
<circle cx="608.7" cy="295.9" r="2.8"/>
<circle cx="617.9" cy="297.5" r="2.8"/>
<circle cx="620.5" cy="297.5" r="2.8"/>
<circle cx="624.0" cy="294.2" r="2.8"/>
<circle cx="639.2" cy="294.0" r="2.8"/>
<circle cx="647.6" cy="295.4" r="2.8"/>
<circle cx="569.6" cy="298.0" r="2.8"/>
<circle cx="574.0" cy="300.3" r="2.8"/>
<circle cx="592.1" cy="299.5" r="2.8"/>
<circle cx="605.7" cy="299.6" r="2.8"/>
<circle cx="565.5" cy="303.0" r="2.8"/>
<circle cx="585.3" cy="302.7" r="2.8"/>
<circle cx="589.1" cy="303.6" r="2.8"/>
<circle cx="594.0" cy="305.0" r="2.8"/>
<circle cx="609.6" cy="304.1" r="2.8"/>
<circle cx="611.8" cy="303.9" r="2.8"/>
<circle cx="622.8" cy="302.7" r="2.8"/>
<circle cx="626.8" cy="302.1" r="2.8"/>
<circle cx="634.7" cy="302.6" r="2.8"/>
<circle cx="563.3" cy="307.1" r="2.8"/>
<circle cx="566.6" cy="306.4" r="2.8"/>
<circle cx="570.1" cy="306.4" r="2.8"/>
<circle cx="576.6" cy="305.5" r="2.8"/>
<circle cx="592.6" cy="305.5" r="2.8"/>
<circle cx="604.0" cy="307.4" r="2.8"/>
<circle cx="609.5" cy="307.0" r="2.8"/>
<circle cx="617.6" cy="308.3" r="2.8"/>
<circle cx="558.4" cy="310.7" r="2.8"/>
<circle cx="569.4" cy="312.2" r="2.8"/>
<circle cx="581.8" cy="309.5" r="2.8"/>
<circle cx="597.6" cy="312.1" r="2.8"/>
<circle cx="620.3" cy="310.5" r="2.8"/>
<circle cx="557.8" cy="316.2" r="2.8"/>
<circle cx="560.2" cy="314.9" r="2.8"/>
<circle cx="569.7" cy="313.2" r="2.8"/>
<circle cx="574.9" cy="315.5" r="2.8"/>
<circle cx="582.3" cy="316.4" r="2.8"/>
<circle cx="593.2" cy="315.6" r="2.8"/>
<circle cx="602.5" cy="313.8" r="2.8"/>
<circle cx="605.2" cy="314.9" r="2.8"/>
<circle cx="615.3" cy="314.8" r="2.8"/>
<circle cx="620.2" cy="315.9" r="2.8"/>
<circle cx="565.0" cy="320.1" r="2.8"/>
<circle cx="583.1" cy="320.2" r="2.8"/>
<circle cx="589.8" cy="319.0" r="2.8"/>
<circle cx="558.9" cy="322.6" r="2.8"/>
<circle cx="567.9" cy="322.6" r="2.8"/>
<circle cx="582.2" cy="322.1" r="2.8"/>
<circle cx="588.3" cy="323.6" r="2.8"/>
<circle cx="591.2" cy="320.7" r="2.8"/>
<circle cx="597.2" cy="320.7" r="2.8"/>
<circle cx="558.1" cy="327.8" r="2.8"/>
<circle cx="576.2" cy="326.0" r="2.8"/>
<circle cx="561.5" cy="329.6" r="2.8"/>
<circle cx="570.7" cy="329.9" r="2.8"/>
<circle cx="576.1" cy="330.4" r="2.8"/>
<circle cx="568.0" cy="332.1" r="2.8"/>
<circle cx="583.6" cy="299.6" r="2.8"/>
<circle cx="592.4" cy="299.0" r="2.8"/>
<circle cx="603.5" cy="300.6" r="2.8"/>
<circle cx="607.1" cy="299.8" r="2.8"/>
<circle cx="585.5" cy="305.4" r="2.8"/>
<circle cx="595.4" cy="303.3" r="2.8"/>
<circle cx="603.8" cy="304.1" r="2.8"/>
<circle cx="595.0" cy="309.4" r="2.8"/>
<circle cx="599.0" cy="308.9" r="2.8"/>
<circle cx="608.1" cy="308.4" r="2.8"/>
<circle cx="611.9" cy="306.6" r="2.8"/>
<circle cx="615.2" cy="307.0" r="2.8"/>
<circle cx="583.8" cy="315.7" r="2.8"/>
<circle cx="597.1" cy="316.8" r="2.8"/>
<circle cx="611.0" cy="316.7" r="2.8"/>
<circle cx="595.8" cy="320.1" r="2.8"/>
<circle cx="588.0" cy="324.6" r="2.8"/>
<circle cx="592.7" cy="322.3" r="2.8"/>
</g>
<line x1="43.30" y1="400.70" x2="217.00" y2="400.70" stroke="#333333" stroke-width="1.4" />
<line x1="219.60" y1="400.70" x2="393.50" y2="400.70" stroke="#333333" stroke-width="1.4" />
<line x1="488.80" y1="400.70" x2="662.00" y2="400.70" stroke="#333333" stroke-width="1.4" />
<line x1="43.70" y1="51.00" x2="43.70" y2="223.70" stroke="#333333" stroke-width="1.4" />
<line x1="43.70" y1="228.20" x2="43.70" y2="401.40" stroke="#333333" stroke-width="1.4" />
<line x1="489.20" y1="51.00" x2="489.20" y2="223.70" stroke="#333333" stroke-width="1.4" />
<line x1="489.20" y1="228.20" x2="489.20" y2="401.40" stroke="#333333" stroke-width="1.4" />
<line x1="68.80" y1="401.00" x2="68.80" y2="403.00" stroke="#333333" stroke-width="1.1" />
<text x="68.80" y="415.00" font-size="13.8" text-anchor="middle" fill="#4a4a4a" stroke="#4a4a4a" stroke-width="0.3" >50</text>
<line x1="245.10" y1="401.00" x2="245.10" y2="403.00" stroke="#333333" stroke-width="1.1" />
<text x="245.10" y="415.00" font-size="13.8" text-anchor="middle" fill="#4a4a4a" stroke="#4a4a4a" stroke-width="0.3" >50</text>
<line x1="513.50" y1="401.00" x2="513.50" y2="403.00" stroke="#333333" stroke-width="1.1" />
<text x="513.50" y="415.00" font-size="13.8" text-anchor="middle" fill="#4a4a4a" stroke="#4a4a4a" stroke-width="0.3" >50</text>
<line x1="42.00" y1="199.00" x2="44.00" y2="199.00" stroke="#333333" stroke-width="1.1" />
<text x="40.40" y="204.10" font-size="13.8" text-anchor="end" fill="#4a4a4a" stroke="#4a4a4a" stroke-width="0.3" >50</text>
<line x1="487.50" y1="199.30" x2="489.50" y2="199.30" stroke="#333333" stroke-width="1.1" />
<text x="485.90" y="204.40" font-size="13.8" text-anchor="end" fill="#4a4a4a" stroke="#4a4a4a" stroke-width="0.3" >50</text>
<line x1="42.00" y1="376.20" x2="44.00" y2="376.20" stroke="#333333" stroke-width="1.1" />
<text x="40.40" y="381.30" font-size="13.8" text-anchor="end" fill="#4a4a4a" stroke="#4a4a4a" stroke-width="0.3" >50</text>
<line x1="487.50" y1="376.50" x2="489.50" y2="376.50" stroke="#333333" stroke-width="1.1" />
<text x="485.90" y="381.60" font-size="13.8" text-anchor="end" fill="#4a4a4a" stroke="#4a4a4a" stroke-width="0.3" >50</text>
<line x1="103.80" y1="401.00" x2="103.80" y2="403.00" stroke="#333333" stroke-width="1.1" />
<text x="103.80" y="415.00" font-size="13.8" text-anchor="middle" fill="#4a4a4a" stroke="#4a4a4a" stroke-width="0.3" >60</text>
<line x1="280.10" y1="401.00" x2="280.10" y2="403.00" stroke="#333333" stroke-width="1.1" />
<text x="280.10" y="415.00" font-size="13.8" text-anchor="middle" fill="#4a4a4a" stroke="#4a4a4a" stroke-width="0.3" >60</text>
<line x1="547.00" y1="401.00" x2="547.00" y2="403.00" stroke="#333333" stroke-width="1.1" />
<text x="547.00" y="415.00" font-size="13.8" text-anchor="middle" fill="#4a4a4a" stroke="#4a4a4a" stroke-width="0.3" >60</text>
<line x1="42.00" y1="164.00" x2="44.00" y2="164.00" stroke="#333333" stroke-width="1.1" />
<text x="40.40" y="169.10" font-size="13.8" text-anchor="end" fill="#4a4a4a" stroke="#4a4a4a" stroke-width="0.3" >60</text>
<line x1="487.50" y1="165.80" x2="489.50" y2="165.80" stroke="#333333" stroke-width="1.1" />
<text x="485.90" y="170.90" font-size="13.8" text-anchor="end" fill="#4a4a4a" stroke="#4a4a4a" stroke-width="0.3" >60</text>
<line x1="42.00" y1="341.20" x2="44.00" y2="341.20" stroke="#333333" stroke-width="1.1" />
<text x="40.40" y="346.30" font-size="13.8" text-anchor="end" fill="#4a4a4a" stroke="#4a4a4a" stroke-width="0.3" >60</text>
<line x1="487.50" y1="343.00" x2="489.50" y2="343.00" stroke="#333333" stroke-width="1.1" />
<text x="485.90" y="348.10" font-size="13.8" text-anchor="end" fill="#4a4a4a" stroke="#4a4a4a" stroke-width="0.3" >60</text>
<line x1="138.80" y1="401.00" x2="138.80" y2="403.00" stroke="#333333" stroke-width="1.1" />
<text x="138.80" y="415.00" font-size="13.8" text-anchor="middle" fill="#4a4a4a" stroke="#4a4a4a" stroke-width="0.3" >70</text>
<line x1="315.10" y1="401.00" x2="315.10" y2="403.00" stroke="#333333" stroke-width="1.1" />
<text x="315.10" y="415.00" font-size="13.8" text-anchor="middle" fill="#4a4a4a" stroke="#4a4a4a" stroke-width="0.3" >70</text>
<line x1="580.50" y1="401.00" x2="580.50" y2="403.00" stroke="#333333" stroke-width="1.1" />
<text x="580.50" y="415.00" font-size="13.8" text-anchor="middle" fill="#4a4a4a" stroke="#4a4a4a" stroke-width="0.3" >70</text>
<line x1="42.00" y1="129.00" x2="44.00" y2="129.00" stroke="#333333" stroke-width="1.1" />
<text x="40.40" y="134.10" font-size="13.8" text-anchor="end" fill="#4a4a4a" stroke="#4a4a4a" stroke-width="0.3" >70</text>
<line x1="487.50" y1="132.30" x2="489.50" y2="132.30" stroke="#333333" stroke-width="1.1" />
<text x="485.90" y="137.40" font-size="13.8" text-anchor="end" fill="#4a4a4a" stroke="#4a4a4a" stroke-width="0.3" >70</text>
<line x1="42.00" y1="306.20" x2="44.00" y2="306.20" stroke="#333333" stroke-width="1.1" />
<text x="40.40" y="311.30" font-size="13.8" text-anchor="end" fill="#4a4a4a" stroke="#4a4a4a" stroke-width="0.3" >70</text>
<line x1="487.50" y1="309.50" x2="489.50" y2="309.50" stroke="#333333" stroke-width="1.1" />
<text x="485.90" y="314.60" font-size="13.8" text-anchor="end" fill="#4a4a4a" stroke="#4a4a4a" stroke-width="0.3" >70</text>
<line x1="173.80" y1="401.00" x2="173.80" y2="403.00" stroke="#333333" stroke-width="1.1" />
<text x="173.80" y="415.00" font-size="13.8" text-anchor="middle" fill="#4a4a4a" stroke="#4a4a4a" stroke-width="0.3" >80</text>
<line x1="350.10" y1="401.00" x2="350.10" y2="403.00" stroke="#333333" stroke-width="1.1" />
<text x="350.10" y="415.00" font-size="13.8" text-anchor="middle" fill="#4a4a4a" stroke="#4a4a4a" stroke-width="0.3" >80</text>
<line x1="614.00" y1="401.00" x2="614.00" y2="403.00" stroke="#333333" stroke-width="1.1" />
<text x="614.00" y="415.00" font-size="13.8" text-anchor="middle" fill="#4a4a4a" stroke="#4a4a4a" stroke-width="0.3" >80</text>
<line x1="42.00" y1="94.00" x2="44.00" y2="94.00" stroke="#333333" stroke-width="1.1" />
<text x="40.40" y="99.10" font-size="13.8" text-anchor="end" fill="#4a4a4a" stroke="#4a4a4a" stroke-width="0.3" >80</text>
<line x1="487.50" y1="98.80" x2="489.50" y2="98.80" stroke="#333333" stroke-width="1.1" />
<text x="485.90" y="103.90" font-size="13.8" text-anchor="end" fill="#4a4a4a" stroke="#4a4a4a" stroke-width="0.3" >80</text>
<line x1="42.00" y1="271.20" x2="44.00" y2="271.20" stroke="#333333" stroke-width="1.1" />
<text x="40.40" y="276.30" font-size="13.8" text-anchor="end" fill="#4a4a4a" stroke="#4a4a4a" stroke-width="0.3" >80</text>
<line x1="487.50" y1="276.00" x2="489.50" y2="276.00" stroke="#333333" stroke-width="1.1" />
<text x="485.90" y="281.10" font-size="13.8" text-anchor="end" fill="#4a4a4a" stroke="#4a4a4a" stroke-width="0.3" >80</text>
<line x1="208.80" y1="401.00" x2="208.80" y2="403.00" stroke="#333333" stroke-width="1.1" />
<text x="208.80" y="415.00" font-size="13.8" text-anchor="middle" fill="#4a4a4a" stroke="#4a4a4a" stroke-width="0.3" >90</text>
<line x1="385.10" y1="401.00" x2="385.10" y2="403.00" stroke="#333333" stroke-width="1.1" />
<text x="385.10" y="415.00" font-size="13.8" text-anchor="middle" fill="#4a4a4a" stroke="#4a4a4a" stroke-width="0.3" >90</text>
<line x1="647.50" y1="401.00" x2="647.50" y2="403.00" stroke="#333333" stroke-width="1.1" />
<text x="647.50" y="415.00" font-size="13.8" text-anchor="middle" fill="#4a4a4a" stroke="#4a4a4a" stroke-width="0.3" >90</text>
<line x1="42.00" y1="59.00" x2="44.00" y2="59.00" stroke="#333333" stroke-width="1.1" />
<text x="40.40" y="64.10" font-size="13.8" text-anchor="end" fill="#4a4a4a" stroke="#4a4a4a" stroke-width="0.3" >90</text>
<line x1="487.50" y1="65.30" x2="489.50" y2="65.30" stroke="#333333" stroke-width="1.1" />
<text x="485.90" y="70.40" font-size="13.8" text-anchor="end" fill="#4a4a4a" stroke="#4a4a4a" stroke-width="0.3" >90</text>
<line x1="42.00" y1="236.20" x2="44.00" y2="236.20" stroke="#333333" stroke-width="1.1" />
<text x="40.40" y="241.30" font-size="13.8" text-anchor="end" fill="#4a4a4a" stroke="#4a4a4a" stroke-width="0.3" >90</text>
<line x1="487.50" y1="242.50" x2="489.50" y2="242.50" stroke="#333333" stroke-width="1.1" />
<text x="485.90" y="247.60" font-size="13.8" text-anchor="end" fill="#4a4a4a" stroke="#4a4a4a" stroke-width="0.3" >90</text>
<text x="130.50" y="45.90" font-size="17.3" text-anchor="middle" fill="#000" stroke="#000" stroke-width="0.3" >ADNI</text>
<text x="306.90" y="45.90" font-size="17.3" text-anchor="middle" fill="#000" stroke="#000" stroke-width="0.3" >FACE</text>
<text x="575.75" y="45.90" font-size="17.3" text-anchor="middle" fill="#000" stroke="#000" stroke-width="0.3" >Validation</text>
<text x="0" y="0" font-size="17.3" text-anchor="middle" fill="#000" stroke="#000" stroke-width="0.3" transform="translate(398.20,137.35) rotate(90)">Males</text>
<text x="0" y="0" font-size="17.3" text-anchor="middle" fill="#000" stroke="#000" stroke-width="0.3" transform="translate(398.20,314.60) rotate(90)">Females</text>
<text x="0" y="0" font-size="17.3" text-anchor="middle" fill="#000" stroke="#000" stroke-width="0.3" transform="translate(667.30,137.35) rotate(90)">Males</text>
<text x="0" y="0" font-size="17.3" text-anchor="middle" fill="#000" stroke="#000" stroke-width="0.3" transform="translate(667.30,314.60) rotate(90)">Females</text>
<text x="218.50" y="432.00" font-size="17.6" text-anchor="middle" fill="#000" stroke="#000" stroke-width="0.3" >Chronological Age</text>
<text x="575.80" y="432.00" font-size="17.6" text-anchor="middle" fill="#000" stroke="#000" stroke-width="0.3" >Chronological Age</text>
<text x="0" y="0" font-size="17.6" text-anchor="middle" fill="#000" stroke="#000" stroke-width="0.3" transform="translate(19.70,225.50) rotate(-90)">Predicted Age</text>
<text x="0" y="0" font-size="17.6" text-anchor="middle" fill="#000" stroke="#000" stroke-width="0.3" transform="translate(465.00,225.50) rotate(-90)">Predicted Age</text>
<text x="0.50" y="15.20" font-size="21" text-anchor="start" fill="#000" stroke="#000" stroke-width="0" font-weight="bold">a</text>
<text x="440.50" y="15.20" font-size="21" text-anchor="start" fill="#000" stroke="#000" stroke-width="0" font-weight="bold">b</text>
<text x="55.00" y="69.00" font-size="12.4" fill="#000" stroke="#000" stroke-width="0.3">&#961; = 0.72, <tspan font-style="italic">p</tspan> = 1.4e&#8722;15</text>
<text x="232.00" y="69.00" font-size="12.4" fill="#000" stroke="#000" stroke-width="0.3">&#961; = 0.71, <tspan font-style="italic">p</tspan> = 8.8e&#8722;14</text>
<text x="55.00" y="246.00" font-size="12.4" fill="#000" stroke="#000" stroke-width="0.3">&#961; = 0.58, <tspan font-style="italic">p</tspan> = 3.6e&#8722;08</text>
<text x="232.00" y="246.00" font-size="12.4" fill="#000" stroke="#000" stroke-width="0.3">&#961; = 0.69, <tspan font-style="italic">p</tspan> = 3e&#8722;13</text>
<text x="502.00" y="69.00" font-size="12.4" fill="#000" stroke="#000" stroke-width="0.3">&#961; = 0.83, <tspan font-style="italic">p</tspan> = 7.95e&#8722;85</text>
<text x="499.50" y="246.00" font-size="12.4" fill="#000" stroke="#000" stroke-width="0.3">&#961; = 0.773, <tspan font-style="italic">p</tspan> = 1.14e&#8722;97</text>
</svg>
</body></html>
